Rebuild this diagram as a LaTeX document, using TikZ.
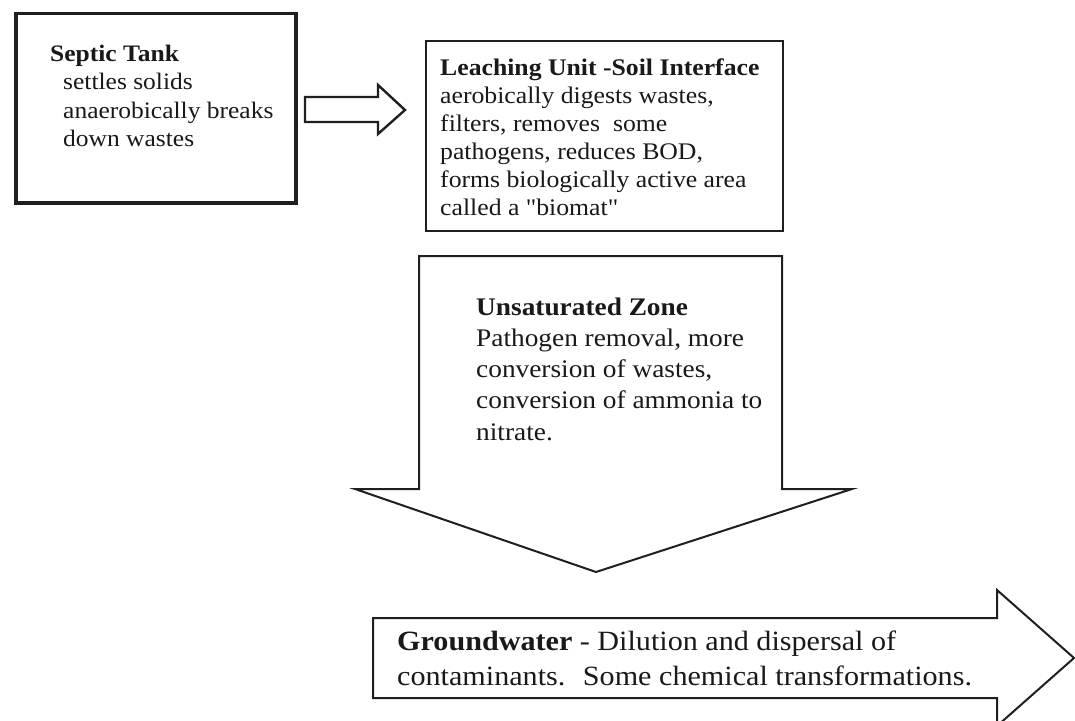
\documentclass[tikz,border=0pt]{standalone}
\usepackage{fontspec}
\setmainfont[FakeStretch=1.08, Ligatures=TeXOff]{Liberation Serif}
\begin{document}
\begin{tikzpicture}[x=1bp,y=-1bp,
  ink/.style={draw=black!88, line join=miter},
  tankbox/.style={ink, line width=3.5bp, fill=white},
  leachbox/.style={ink, line width=2.4bp, fill=white},
  blockarrow/.style={ink, line width=2bp, fill=white},
  txt/.style={inner sep=0pt, align=left, text=black!90, anchor=base west}]
\useasboundingbox (0,0) rectangle (1075,721);
% boxes
\node[tankbox, minimum width=280bp, minimum height=189bp, anchor=north west] (septic) at (14,12) {};
\node[leachbox, minimum width=357bp, minimum height=190bp, anchor=north west] (leach) at (425,40) {};
% small block arrow between the boxes
\draw[blockarrow, line width=2.4bp] (305,97) -- (378,97) -- (378,85) -- (405,110) -- (378,134) -- (378,122) -- (305,122) -- cycle;
% unsaturated zone down arrow
\draw[blockarrow] (419,256) -- (782,256) -- (782,489) -- (852,489) -- (596,572) -- (355,489) -- (419,489) -- cycle;
% groundwater right arrow
\draw[blockarrow] (373,618) -- (997,618) -- (997,590) -- (1074,658) -- (997,726) -- (997,698) -- (373,698) -- cycle;
% texts (anchored at the baseline of their last line)
\node[txt, font=\fontsize{23.7}{28.7}\selectfont] (septictext) at (50,147)
  {\textbf{Septic Tank}\\\hspace*{13bp}settles solids\\\hspace*{13bp}anaerobically breaks\\\hspace*{13bp}down wastes};
\node[txt, font=\fontsize{23.9}{28}\selectfont] (leachtext) at (440,215)
  {\textbf{Leaching Unit -Soil Interface}\\aerobically digests wastes,\\filters, removes~ some\\pathogens, reduces BOD,\\forms biologically active area\\called a "biomat"};
\node[txt, font=\fontsize{25.4}{31.3}\selectfont] (unsattext) at (476,440)
  {\textbf{Unsaturated Zone}\\Pathogen removal, more\\conversion of wastes,\\conversion of ammonia to\\nitrate.};
\node[txt, font=\fontsize{28}{35}\selectfont] (gwtext) at (397,685)
  {\textbf{Groundwater} - Dilution and dispersal of\\contaminants.~ Some chemical transformations.};
\end{tikzpicture}
\end{document}
